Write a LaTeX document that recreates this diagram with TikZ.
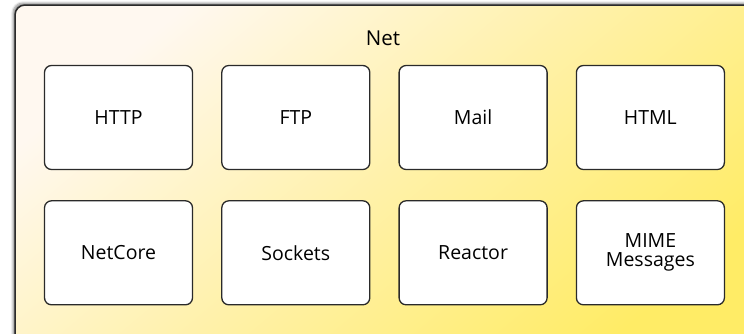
\documentclass[tikz,border=0pt]{standalone}
\usepackage{fontspec}
\setmainfont{Open Sans}
\usepackage{tikz}
\usetikzlibrary{positioning,shadows.blur}
\definecolor{cream}{HTML}{FFF8F0}
\definecolor{cyellow}{HTML}{FFEC66}
\definecolor{cmid}{HTML}{FFF1A8}
\definecolor{cline}{HTML}{2A2A2A}

\begin{document}
\begin{tikzpicture}[x=1pt,y=-1pt,node distance=28pt and 28pt,
  module/.style={rectangle,rounded corners=7pt,draw=cline,line width=1.3pt,fill=white,
    minimum width=148pt,minimum height=104pt,align=center,font=\fontsize{19.5}{20}\selectfont,
    inner sep=0pt}]
  \useasboundingbox (0,0) rectangle (744,333);
  \clip (0,0) rectangle (744,333);
  \draw[cline,line width=1.5pt,rounded corners=10pt,top color=cream,bottom color=cyellow,
    middle color=cmid,shading angle=40,
    blur shadow={shadow xshift=-2pt,shadow yshift=2pt,shadow blur steps=6,shadow opacity=45}]
    (15,5) rectangle (770,350);
  \node[font=\fontsize{20.5}{22}\selectfont] (net) at (383,38) {Net};
  \node[module] (http) at (118.5,117.5) {HTTP};
  \node[module] (ftp) [right=of http] {FTP};
  \node[module] (mail) [right=of ftp] {Mail};
  \node[module] (html) [right=of mail] {HTML};
  \node[module] (netcore) [below=30pt of http] {NetCore};
  \node[module] (sockets) [right=of netcore] {Sockets};
  \node[module] (reactor) [right=of sockets] {Reactor};
  \node[module] (mime) [right=of reactor] {MIME\\[-1pt]Messages};
\end{tikzpicture}
\end{document}
